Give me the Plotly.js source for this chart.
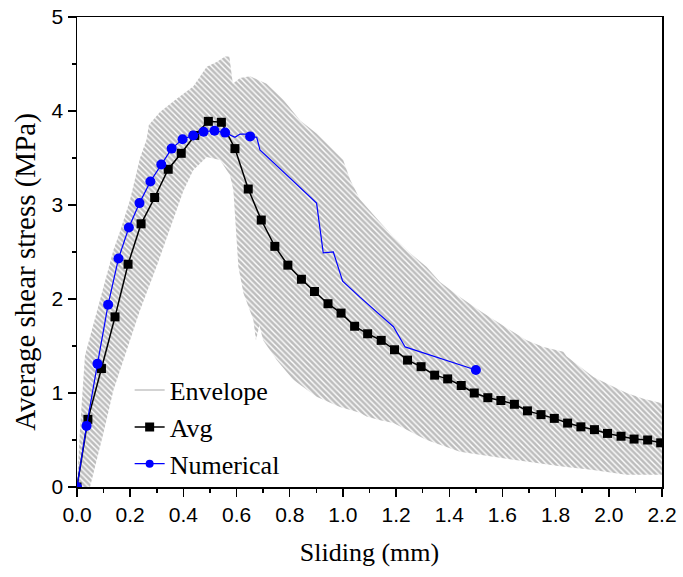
<!DOCTYPE html>
<html><head><meta charset="utf-8">
<script src="https://cdn.plot.ly/plotly-3.0.1.min.js"></script>
<style>html,body{margin:0;padding:0;background:#fff}#chart{width:683px;height:577px}</style>
</head><body><div id="chart"></div>
<script>
// Avg (black squares)
const avgX = [0, 0.041, 0.092, 0.143, 0.192, 0.241, 0.292, 0.343, 0.392, 0.443, 0.494, 0.543, 0.594, 0.644, 0.693, 0.744, 0.793, 0.844, 0.893, 0.944, 0.993, 1.044, 1.093, 1.144, 1.194, 1.243, 1.294, 1.345, 1.394, 1.445, 1.494, 1.545, 1.594, 1.645, 1.694, 1.745, 1.795, 1.845, 1.895, 1.946, 1.995, 2.046, 2.095, 2.146, 2.195];
const avgY = [0, 0.72, 1.26, 1.81, 2.37, 2.80, 3.08, 3.38, 3.55, 3.74, 3.89, 3.88, 3.60, 3.17, 2.84, 2.56, 2.36, 2.21, 2.08, 1.95, 1.85, 1.71, 1.63, 1.56, 1.46, 1.35, 1.28, 1.19, 1.15, 1.08, 1.00, 0.95, 0.92, 0.88, 0.81, 0.77, 0.73, 0.68, 0.64, 0.61, 0.57, 0.54, 0.51, 0.50, 0.47];

// Numerical curve (full path) and its marked points
const numLineX = [0, 0.036, 0.077, 0.117, 0.156, 0.195, 0.235, 0.276, 0.317, 0.356, 0.397, 0.437, 0.476, 0.517, 0.557, 0.594, 0.613, 0.638, 0.651, 0.676, 0.688, 0.901, 0.926, 0.964, 0.999, 1.064, 1.19, 1.234, 1.50];
const numLineY = [0, 0.65, 1.31, 1.94, 2.43, 2.76, 3.02, 3.25, 3.43, 3.60, 3.70, 3.74, 3.78, 3.79, 3.77, 3.72, 3.755, 3.755, 3.73, 3.72, 3.585, 3.02, 2.49, 2.50, 2.19, 2.02, 1.705, 1.49, 1.245];
const numMarkX = [0, 0.036, 0.077, 0.117, 0.156, 0.195, 0.235, 0.276, 0.317, 0.356, 0.397, 0.437, 0.476, 0.517, 0.557, 0.651, 1.50];
const numMarkY = [0, 0.65, 1.31, 1.94, 2.43, 2.76, 3.02, 3.25, 3.43, 3.60, 3.70, 3.74, 3.78, 3.79, 3.77, 3.73, 1.245];

// Envelope boundaries
const envUpperX = [0, 0.005, 0.011, 0.03, 0.061, 0.099, 0.137, 0.162, 0.199, 0.237, 0.262, 0.27, 0.312, 0.375, 0.437, 0.488, 0.525, 0.557, 0.573, 0.586, 0.613, 0.651, 0.713, 0.776, 0.839, 0.901, 0.964, 1.001, 1.027, 1.064, 1.114, 1.19, 1.252, 1.315, 1.365, 1.44, 1.528, 1.628, 1.691, 1.754, 1.829, 1.841, 1.942, 2.004, 2.067, 2.13, 2.2];
const envUpperY = [0, 0.3, 0.6, 1.4, 1.72, 2.1, 2.52, 2.72, 3.05, 3.5, 3.7, 3.85, 3.99, 4.13, 4.26, 4.47, 4.52, 4.58, 4.58, 4.29, 4.35, 4.37, 4.29, 4.12, 3.9, 3.76, 3.585, 3.48, 3.27, 3.06, 2.9, 2.66, 2.49, 2.34, 2.18, 2.02, 1.85, 1.67, 1.56, 1.49, 1.44, 1.39, 1.17, 1.085, 1.0, 0.94, 0.89];
const envLowerX = [0.049, 0.068, 0.099, 0.137, 0.187, 0.237, 0.30, 0.35, 0.40, 0.437, 0.488, 0.538, 0.575, 0.588, 0.594, 0.601, 0.607, 0.626, 0.663, 0.673, 0.686, 0.70, 0.751, 0.813, 0.901, 0.989, 1.064, 1.089, 1.14, 1.19, 1.315, 1.44, 1.565, 1.69, 1.816, 1.941, 2.066, 2.2];
const envLowerY = [0.0, 0.22, 0.57, 1.03, 1.46, 1.88, 2.35, 2.75, 3.15, 3.37, 3.51, 3.48, 3.32, 3.16, 2.95, 2.6, 2.34, 2.06, 1.78, 1.56, 1.72, 1.56, 1.35, 1.14, 0.96, 0.85, 0.79, 0.75, 0.71, 0.68, 0.50, 0.375, 0.32, 0.27, 0.22, 0.18, 0.13, 0.13];

const xTickVals = [0, 0.2, 0.4, 0.6, 0.8, 1.0, 1.2, 1.4, 1.6, 1.8, 2.0, 2.2];
const xTickText = ['0.0', '0.2', '0.4', '0.6', '0.8', '1.0', '1.2', '1.4', '1.6', '1.8', '2.0', '2.2'];
const yTickVals = [0, 1, 2, 3, 4, 5];

const envX = envUpperX.concat(envLowerX.slice().reverse());
const envY = envUpperY.concat(envLowerY.slice().reverse());

const serif = 'Liberation Serif, Times New Roman, serif';
const sans = 'Liberation Sans, Arial, sans-serif';

const traces = [
  {x: envX, y: envY, mode: 'lines', fill: 'toself', line: {width: 0, color: '#c4c4c4'},
   fillcolor: '#c4c4c4',
   fillpattern: {shape: '\\', bgcolor: '#bdbdbd', fgcolor: '#ffffff', size: 4, solidity: 0.35},
   showlegend: false, hoverinfo: 'skip'},
  {x: [null], y: [null], mode: 'lines', name: 'Envelope', line: {color: '#c4c4c4', width: 1.5}},
  {x: avgX, y: avgY, mode: 'lines+markers', name: 'Avg',
   line: {color: '#000000', width: 1.5},
   marker: {symbol: 'square', size: 9, color: '#000000'}},
  {x: numLineX, y: numLineY, mode: 'lines', showlegend: false,
   line: {color: '#0000ff', width: 1.2}},
  {x: numMarkX, y: numMarkY, mode: 'markers', showlegend: false,
   marker: {symbol: 'circle', size: 10, color: '#0000ff'}},
  {x: [null], y: [null], mode: 'lines+markers', name: 'Numerical',
   line: {color: '#0000ff', width: 1.2},
   marker: {symbol: 'circle', size: 8, color: '#0000ff'}}
];

const layout = {
  width: 683, height: 577,
  margin: {l: 77, r: 21, t: 17, b: 90},
  paper_bgcolor: '#ffffff', plot_bgcolor: '#ffffff',
  showlegend: true,
  legend: {x: 0.09, y: 0.256, xanchor: 'left', yanchor: 'top',
           bgcolor: 'rgba(0,0,0,0)', font: {family: serif, size: 26, color: '#000'},
           tracegroupgap: 0},
  xaxis: {
    range: [0, 2.2], tickvals: xTickVals, ticktext: xTickText,
    ticks: 'outside', ticklen: 8, tickwidth: 1.5, tickcolor: '#000',
    minor: {dtick: 0.1, ticks: 'outside', ticklen: 4, tickwidth: 1.5, tickcolor: '#000'},
    showline: true, linewidth: 1.5, linecolor: '#000', mirror: true,
    showgrid: false, zeroline: false,
    tickfont: {family: sans, size: 21, color: '#000'},
    title: {text: 'Sliding (mm)', font: {family: serif, size: 26, color: '#000'}, standoff: 18}
  },
  yaxis: {
    range: [0, 5], tickvals: yTickVals,
    ticks: 'outside', ticklen: 8, tickwidth: 1.5, tickcolor: '#000',
    minor: {dtick: 0.5, ticks: 'outside', ticklen: 4, tickwidth: 1.5, tickcolor: '#000'},
    showline: true, linewidth: 1.5, linecolor: '#000', mirror: true,
    showgrid: false, zeroline: false,
    tickfont: {family: sans, size: 21, color: '#000'}
  },
  annotations: [{
    text: 'Average shear stress (MPa)', xref: 'paper', yref: 'paper',
    x: -0.088, y: 0.457, xanchor: 'center', yanchor: 'middle',
    textangle: -90, showarrow: false,
    font: {family: serif, size: 29, color: '#000'}
  }]
};

Plotly.newPlot('chart', traces, layout, {displayModeBar: false, staticPlot: true});
</script></body></html>
